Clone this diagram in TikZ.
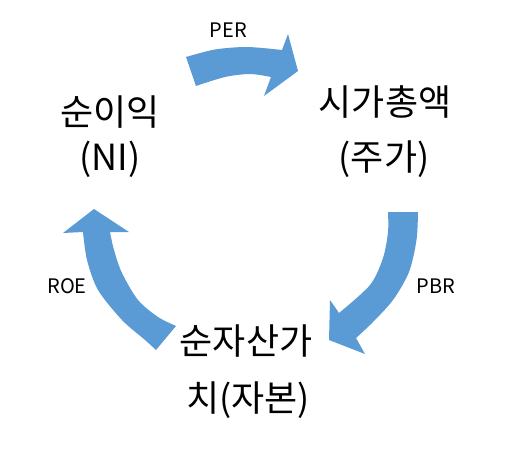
\documentclass[tikz,border=0pt]{standalone}
\usepackage{fontspec}
\setmainfont{Noto Sans CJK KR}
\definecolor{arrowblue}{HTML}{5B9BD5}
\begin{document}
\begin{tikzpicture}[x=1pt,y=-1pt,
  big/.style={font=\fontsize{36}{42}\selectfont, anchor=base, inner sep=0pt},
  small/.style={font=\fontsize{20}{24}\selectfont, anchor=base, inner sep=0pt},
  cyclearrow/.style={fill=arrowblue}]
\useasboundingbox (0,0) rectangle (510,454);
% labels
\node[big] (ni1) at (110,126) {순이익};
\node[big] (ni2) at (110,171) {(NI)};
\node[big] (mc1) at (385,116) {시가총액};
\node[big] (mc2) at (384,171) {(주가)};
\node[big] (bv1) at (246,354) {순자산가};
\node[big] (bv2) at (248,411) {치(자본)};
\node[small] (per) at (228.5,38) {PER};
\node[small] (pbr) at (436,293) {PBR};
\node[small] (roe) at (67,293) {ROE};
% PER arrow
\fill[cyclearrow] plot[smooth] coordinates {(186,57) (215,49.5) (247,47) (282,50)}
  -- (288,34) -- (298,71) -- (264,96)
  -- plot[smooth] coordinates {(271,77) (250,74) (225,77) (196,86)} -- cycle;
% PBR arrow
\fill[cyclearrow] plot[smooth] coordinates {(418,212) (416.5,240) (409,272) (393,300) (372,323) (356,338)}
  -- (365,354) -- (329,340) -- (330,300)
  -- plot[smooth] coordinates {(339,313) (370,285) (383,258) (388,232) (388,212)} -- cycle;
% ROE arrow
\fill[cyclearrow] plot[smooth] coordinates {(156,350) (145,340) (122,320) (98,290) (87,260) (83,232)}
  -- (63,233) -- (94,209) -- (129,232)
  -- plot[smooth] coordinates {(110,232) (114,250) (122,273) (138,300) (158,317) (176,326)} -- cycle;
\end{tikzpicture}
\end{document}
